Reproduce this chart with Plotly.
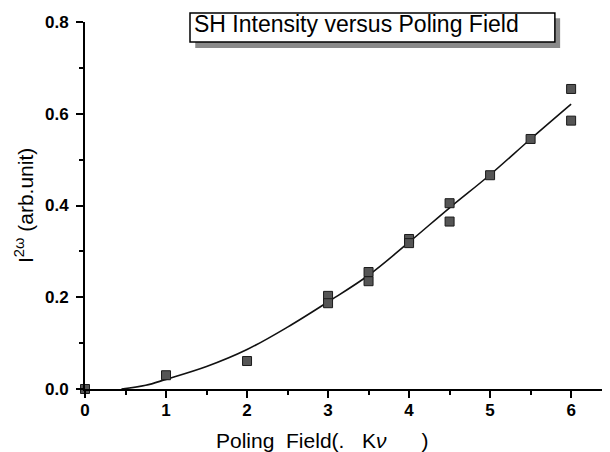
import plotly.graph_objects as go

field = [0, 1, 2, 3, 3, 3.5, 3.5, 4, 4, 4.5, 4.5, 5, 5.5, 6, 6]
intensity = [0.0, 0.03, 0.061, 0.203, 0.187, 0.255, 0.235, 0.327, 0.318,
             0.405, 0.365, 0.466, 0.545, 0.654, 0.585]

# fitted curve as drawn in the original
fit_x = [0.45, 0.75, 1.0, 1.5, 2.0, 2.5, 3.0, 3.5, 4.0, 4.5, 5.0, 5.5, 6.0]
fit_y = [0.0, 0.008, 0.021, 0.049, 0.086, 0.135, 0.19, 0.248, 0.32, 0.395, 0.467, 0.545, 0.621]

x_ticks = [0, 1, 2, 3, 4, 5, 6]
y_ticks = [0.0, 0.2, 0.4, 0.6, 0.8]

FONT = "Liberation Sans, Arial, sans-serif"

fig = go.Figure()
fig.add_trace(go.Scatter(
    x=fit_x, y=fit_y, mode="lines", line=dict(color="#111", width=1.6, shape="spline"),
    showlegend=False, hoverinfo="skip",
))
fig.add_trace(go.Scatter(
    x=field, y=intensity, mode="markers",
    marker=dict(symbol="square", size=9, color="#555555", line=dict(color="#1a1a1a", width=1)),
    showlegend=False, cliponaxis=False,
))

# title box with a drop shadow
fig.add_shape(type="rect", xref="paper", yref="paper", x0=0.21, x1=0.905, y0=0.929, y1=1.01,
              fillcolor="#8a8a8a", line=dict(width=0), layer="above")
fig.add_shape(type="rect", xref="paper", yref="paper", x0=0.2, x1=0.895, y0=0.9455, y1=1.0245,
              fillcolor="white", line=dict(color="black", width=1.5), layer="above")
fig.add_annotation(text="SH Intensity versus Poling Field", xref="paper", yref="paper",
                   x=0.204, y=0.995, xanchor="left", yanchor="middle", showarrow=False,
                   font=dict(family=FONT, size=23, color="black"))

# axis titles
fig.add_annotation(text="Poling  Field(.   K<i>ν</i>      )", xref="paper", yref="paper",
                   x=0.451, y=-0.139, xanchor="center", yanchor="middle", showarrow=False,
                   font=dict(family=FONT, size=21, color="black"))
fig.add_annotation(text="I<sup>2ω</sup> (arb.unit)", xref="paper", yref="paper",
                   x=-0.117, y=0.5, xanchor="center", yanchor="middle", showarrow=False,
                   textangle=-90, font=dict(family=FONT, size=21, color="black"))

fig.update_xaxes(
    range=[0, 6.48], tickvals=x_ticks, ticktext=[str(v) for v in x_ticks],
    showline=True, linecolor="black", linewidth=2, showgrid=False, zeroline=False,
    ticks="outside", ticklen=7, tickwidth=2, tickcolor="black", ticklabelstandoff=-2,
    minor=dict(dtick=0.5, tick0=0, ticks="outside", ticklen=4, tickwidth=1.5, tickcolor="black"),
    tickfont=dict(family=FONT, size=17, color="black", weight="bold"),
)
fig.update_yaxes(
    range=[0, 0.8], tickvals=y_ticks, ticktext=["%.1f" % v for v in y_ticks],
    showline=True, linecolor="black", linewidth=2, showgrid=False, zeroline=False,
    ticks="outside", ticklen=7, tickwidth=2, tickcolor="black", ticklabelstandoff=4,
    minor=dict(dtick=0.1, tick0=0, ticks="outside", ticklen=4, tickwidth=1.5, tickcolor="black"),
    tickfont=dict(family=FONT, size=17, color="black", weight="bold"),
)

fig.update_layout(
    width=602, height=444,
    margin=dict(l=77, r=0, t=14, b=63),
    plot_bgcolor="white", paper_bgcolor="white",
)

fig.write_html("out.html")
